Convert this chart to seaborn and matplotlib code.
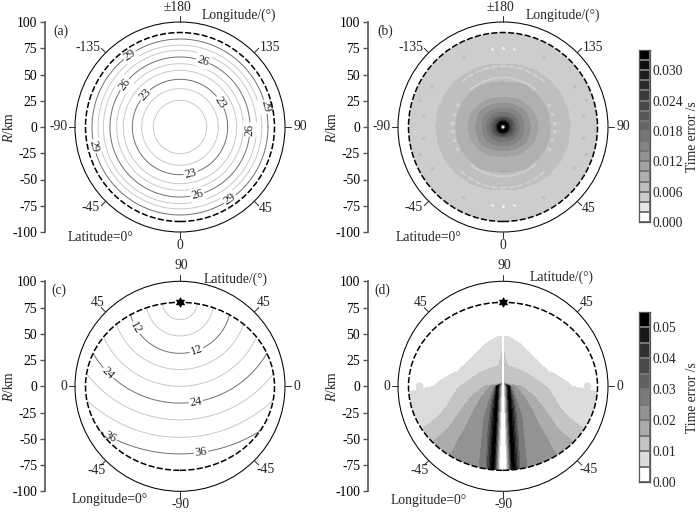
import numpy as np
import pandas as pd
import seaborn as sns
import matplotlib.pyplot as plt
from matplotlib.colors import ListedColormap
from matplotlib.patches import Circle, Ellipse

# contour rings of panel (a): radius in km for each time level
a_levels = [21, 22, 23, 24, 25, 26, 27, 28, 29]
a_radius = [25.4, 36.5, 45.4, 54, 60.3, 66.7, 73, 78, 83.8]
a_labels = {23: [137.5, 31.5, -77], 26: [71, 142.6, -2, -75.6], 29: [125, 13.4, 192.6, -55.3]}

# contour arcs of panel (c): distance from the station at (0, 80)
c_levels = [4, 8, 12, 16, 20, 24, 28, 32, 36]
c_radius = [16.5, 32, 48.6, 64, 80, 96, 112, 128.6, 144.4]
c_labels = {12: [210, -71], 24: [224.6, -81], 36: [242.6, -82]}
station_y = 80

# panel (b): radius where the error reaches each value, one row per angle
b_angles = [0, 15, 30, 45, 60, 75, 90]
b_values = [0, .004, .012, .020, .030, .034, .030, .024, .018, .016, .014, .012, .010, .008, .006, .005, .005]
b_inner = [0, 1.3, 1.8, 2.2, 2.8, 4, 5, 6.8]
b_outer = [
    [12, 15.5, 20, 26, 33, 45, 64, 90, 96],
    [12, 15.5, 20, 26, 33, 45, 64, 90, 96],
    [12, 15, 20, 26, 32, 45, 63.5, 90, 96],
    [11.5, 15, 19.5, 25, 31, 45, 63, 90, 96],
    [11, 14.5, 19, 24, 30, 45, 62, 90, 96],
    [10.5, 14, 18, 23, 28.5, 44, 61, 90, 96],
    [10.5, 14, 18, 22.5, 28, 43, 60, 90, 96],
]
b_levels = [i * 0.002 for i in range(18)]

# lighter dashes of panel (b), first quadrant angle and radius
b_dash_angles = [52, 59, 66, 73, 80, 87, 50, 58, 66, 74, 82, 90]
b_dash_radius = [47, 47, 47, 47, 47, 47, 58, 58, 58, 58, 58, 58]
b_dot_angles = [5, 15, 25, 8, 22]
b_dot_radius = [48.5, 48.5, 48.5, 69, 69]
b_pale_angles = [82, 90]
b_pale_radius = [75, 75]
b_dark_angles = [18, 30, 60, 8]
b_dark_radius = [83, 78, 77, 77]

# panel (d): half width in km where the error reaches each value, one column per value
d_y = [47, 45, 40, 30, 20, 13, 5, 3, 0, -5, -10, -20, -30, -40, -50, -60, -70, -80]
d_cap = [.006, .006, .006, .012, .012, .012, .012, .016, .055, .055, .055, .055, .055, .055, .055, .055, .055, .055]
d_gap = [1, 1, 1, 1, 1, 1, 1, 1, 1.2, 1.3, 1.5, 1.8, 2, 2.3, 2.6, 3, 3.3, 3.5]
d_peak = [1.01, 1.01, 1.01, 1.01, 1.01, 1.01, 1.01, 1.01, 5.5, 5.7, 6, 6.5, 7, 7.5, 8, 8.5, 9, 9.5]
d_040 = [1.02, 1.02, 1.02, 1.02, 1.02, 1.02, 1.02, 1.02, 6.5, 7.2, 8, 9.5, 10.5, 11, 12, 12.5, 13, 13.5]
d_030 = [1.03, 1.03, 1.03, 1.03, 1.03, 1.03, 1.03, 1.03, 7, 8.5, 10, 12, 13, 14, 15, 15, 16, 16]
d_025 = [1.04, 1.04, 1.04, 1.04, 1.04, 1.04, 1.04, 1.04, 8, 10, 12, 15, 18, 19, 20, 21, 22, 23]
d_020 = [1.05, 1.05, 1.05, 1.05, 1.05, 1.05, 1.05, 1.05, 12, 16, 20, 26, 31, 36, 42, 47, 55, 60]
d_015 = [1.06, 1.06, 1.06, 1.06, 1.06, 1.06, 1.06, 1.06, 18, 24, 30, 38, 45, 52, 63, 75, 85, 90]
d_010 = [1.07, 1.07, 1.07, 1.5, 4, 22, 33, 36, 41, 45, 48, 54, 63, 76, 90, 95, 97, 98]
d_005 = [5, 9, 17, 27, 37, 47, 60, 63, 66, 89, 99, 99, 99, 99, 99, 99, 99, 99]
d_values = [0, .005, .055, .040, .030, .025, .020, .015, .010, .005, 0]
d_levels = [i * 0.005 for i in range(12)]
d_blob_x = [-80, 80]
d_blob_y = [0.5, 0.5]
d_streak_x = [35, 40, 45, -35, -40, -45]
d_streak_y = [27, 20, 14, 27, 20, 14]
d_streak_id = [0, 0, 0, 1, 1, 1]

lon_labels = [('±180', -3, 113.6), ('-135', -88, 76), ('135', 86, 76), ('-90', -116, 0.5), ('90', 115, 0),
              ('-45', -85, -77), ('45', 82, -78), ('0', 0, -113)]
lat_labels_c = [('90', 1, 114.6), ('45', -78.5, 80), ('45', 80, 80), ('0', -110.5, 0), ('0', 111, 0),
                ('-45', -79, -80.5), ('-45', 81.6, -79.5), ('-90', 1, -113)]
r_ticks = [100, 75, 50, 25, 0, -25, -50, -75, -100]

sns.set_theme(style='ticks')
plt.rcParams['font.family'] = ['Liberation Serif', 'DejaVu Sans']
plt.rcParams['mathtext.fontset'] = 'custom'
plt.rcParams['mathtext.it'] = 'Liberation Serif:italic'
plt.rcParams['mathtext.rm'] = 'Liberation Serif'

W, H = 700, 514
KM = 1.05   # pixels per km
TXT = 9.8
fig = plt.figure(figsize=(W / 100, H / 100), dpi=100, facecolor='white')


def make_panel(cx, cy, name, semi, corner, labels, corner_xy, side_xy, side):
    # axes placed in pixels so one km is the same on both axes
    left = cx - 135
    ax = fig.add_axes([left / W, 1 - (cy + 126) / H, 270 / W, 252 / H])
    ax.set_xlim(-135 / KM, 135 / KM)
    ax.set_ylim(-120, 120)
    ax.patch.set_alpha(0)
    sns.despine(ax=ax, bottom=True)
    ax.spines['left'].set_bounds(-100, 100)
    ax.spines['left'].set_color('#555555')
    ax.spines['left'].set_linewidth(1.2)
    ax.set_xticks([])
    ax.set_yticks(r_ticks)
    ax.set_yticklabels([str(t) for t in r_ticks], fontsize=TXT, color='black')
    ax.tick_params(axis='y', length=3.6, width=1, color='#555555', pad=2)
    ax.text(-163, 0, r'$\mathit{R}$/km', rotation=90, ha='center', va='center', fontsize=TXT, clip_on=False)

    ax.add_patch(Circle((0, 0), 100, fill=False, ec='black', lw=0.75, zorder=5, clip_on=False))
    ax.add_patch(Ellipse((0, 0), 2 * semi[0], 2 * semi[1], fill=False, ec='black', lw=1.1, ls=(0, (4, 1.5)), zorder=6))
    for ang in [0, 45, 90, 135, 180, 225, 270, 315]:
        c, s = np.cos(np.radians(ang)), np.sin(np.radians(ang))
        ax.plot([100 * c, 106 * c], [100 * s, 106 * s], color='#333333', lw=0.75, clip_on=False, zorder=5)

    for txt, x, y in labels:
        ax.text(x, y, txt, ha='center', va='center', fontsize=TXT)
    ax.text(corner_xy[0], corner_xy[1], name, ha='center', va='center', fontsize=TXT)
    ax.text(side_xy[0], side_xy[1], side, ha='center', va='center', fontsize=TXT)
    ax.text(corner[0], corner[1], corner[2], ha='center', va='center', fontsize=TXT)
    return ax


def reset_limits(ax):
    ax.set_xlabel('')
    ax.set_ylabel('')
    ax.set_xlim(-135 / KM, 135 / KM)
    ax.set_ylim(-120, 120)


def draw_rings(ax, levels, radius, labels, y0, semi):
    rows = []
    t = np.radians(np.arange(0, 361, 1))
    for lev, r in zip(levels, radius):
        kind = 'major' if lev in labels else 'minor'
        rows.append(pd.DataFrame({'x': r * np.cos(t), 'y': y0 + r * np.sin(t), 'level': lev, 'kind': kind}))
    df = pd.concat(rows)
    sns.lineplot(data=df, x='x', y='y', units='level', hue='kind', estimator=None, sort=False, legend=False,
                 palette={'major': '#707070', 'minor': '#c8c8c8'}, linewidth=0.7, ax=ax)
    clip = Ellipse((0, 0), 2 * semi[0], 2 * semi[1], transform=ax.transData)
    for line in ax.lines:
        if len(line.get_xdata()) > 100:
            line.set_clip_path(clip)
    for lev, r in zip(levels, radius):
        for ang in labels.get(lev, []):
            rot = (ang - 90 + 90) % 180 - 90
            ax.text(r * np.cos(np.radians(ang)), y0 + r * np.sin(np.radians(ang)), str(lev), rotation=rot,
                    rotation_mode='anchor', ha='center', va='center', fontsize=8.8, zorder=4,
                    bbox=dict(fc='white', ec='none', pad=0.8))
    reset_limits(ax)


def quarter_points(angles, radius):
    a = np.radians(angles)
    r = np.array(radius)
    xs = np.concatenate([r * np.cos(a), -r * np.cos(a), r * np.cos(a), -r * np.cos(a)])
    ys = np.concatenate([r * np.sin(a), r * np.sin(a), -r * np.sin(a), -r * np.sin(a)])
    return xs, ys


def draw_colorbar(top, bottom, levels, colors, tick_vals, fmt, title_y):
    cax = fig.add_axes([639 / W, 1 - bottom / H, 11 / W, (bottom - top) / H])
    n = len(colors)
    grid = np.arange(n)[::-1].reshape(-1, 1)
    sns.heatmap(grid, cmap=ListedColormap(colors), vmin=-0.5, vmax=n - 0.5, cbar=False, ax=cax,
                linewidths=0.3, linecolor='#777777', xticklabels=False)
    step = levels[1] - levels[0]
    cax.set_yticks([n - v / step for v in tick_vals])
    cax.set_yticklabels([fmt % v for v in tick_vals], rotation=0, fontsize=TXT)
    cax.yaxis.tick_right()
    cax.tick_params(axis='y', length=0, pad=2)
    for sp in cax.spines.values():
        sp.set_visible(True)
        sp.set_color('#555555')
        sp.set_linewidth(0.9)
    fig.text(692 / W, 1 - title_y / H, 'Time error /s', rotation=90, ha='center', va='center', fontsize=TXT)


# panel (a)
ax_a = make_panel(180, 127, '(a)', (90, 90), (-75.5, -105.4, 'Latitude=0°'), lon_labels, (-113.6, 91.4),
                  (56.5, 106), 'Longitude/(°)')
draw_rings(ax_a, a_levels, a_radius, a_labels, 0, (100, 100))

# panel (b)
ax_b = make_panel(503, 127, '(b)', (90, 90), (-71.4, -105.4, 'Latitude=0°'), lon_labels, (-112, 91.4),
                  (57, 106), 'Longitude/(°)')
b_colors = ['#ffffff', '#e6e6e6'] + sns.blend_palette(['#cdcdcd', '#000000'], 15).as_hex()
b_rows = np.array([b_inner + row for row in b_outer])
b_r = np.vstack([b_rows, b_rows[-2::-1], b_rows[1:], b_rows[-2::-1]])
b_t = np.radians(np.arange(0, 361, 15))[:, None]
b_z = np.tile(b_values, (len(b_t), 1))
cs = ax_b.contourf(b_r * np.cos(b_t), b_r * np.sin(b_t), b_z, levels=b_levels, colors=b_colors, zorder=1)
cs.set_clip_path(Circle((0, 0), 90, transform=ax_b.transData))

dash_rows = []
for sx, sy, q in [(1, 1, 0), (-1, 1, 1), (1, -1, 2), (-1, -1, 3)]:
    for k, (ang, r) in enumerate(zip(b_dash_angles, b_dash_radius)):
        t = np.radians([ang - 2.2, ang, ang + 2.2])
        dash_rows.append(pd.DataFrame({'x': sx * r * np.cos(t), 'y': sy * r * np.sin(t), 'dash': f'{q}-{k}'}))
dash_df = pd.concat(dash_rows)
sns.lineplot(data=dash_df, x='x', y='y', units='dash', estimator=None, sort=False, legend=False, color='#d0d0d0',
             linewidth=1.5, ax=ax_b, zorder=2)
for angles, radius, col, size in [(b_dot_angles, b_dot_radius, '#d0d0d0', 7),
                                  (b_pale_angles, b_pale_radius, '#eeeeee', 4),
                                  (b_dark_angles, b_dark_radius, '#bdbdbd', 6)]:
    xs, ys = quarter_points(angles, radius)
    sns.scatterplot(x=xs, y=ys, color=col, s=size, linewidth=0, legend=False, ax=ax_b, zorder=2)
reset_limits(ax_b)
draw_colorbar(50, 222, b_levels, b_colors, [0, .006, .012, .018, .024, .030], '%.3f', 137)

# panel (c)
ax_c = make_panel(180, 386.3, '(c)', (90, 80), (-67, -108, 'Longitude=0°'), lat_labels_c, (-115, 91.4),
                  (53, 102), 'Latitude/(°)')
draw_rings(ax_c, c_levels, c_radius, c_labels, station_y, (90, 80))
ax_c.scatter([0], [station_y], marker=(6, 1, 0), s=38, color='black', zorder=7)

# panel (d)
ax_d = make_panel(503, 386.3, '(d)', (90, 80), (-71, -109, 'Longitude=0°'), lat_labels_c, (-114.6, 91.4),
                  (56, 104), 'Latitude/(°)')
d_colors = ['#ffffff'] + sns.blend_palette(['#dcdcdc', '#000000'], 10).as_hex()
d_half = np.column_stack([np.zeros(len(d_y)), d_gap, d_peak, d_040, d_030, d_025, d_020, d_015, d_010, d_005,
                          np.full(len(d_y), 105)])
d_x = np.hstack([-d_half[:, :0:-1], d_half])
d_yy = np.tile(np.array(d_y)[:, None], (1, d_x.shape[1]))
d_z = np.tile(np.concatenate([d_values[:0:-1], d_values]), (len(d_y), 1))
d_z = np.minimum(d_z, np.array(d_cap)[:, None])
cs = ax_d.contourf(d_x, d_yy, d_z, levels=d_levels, colors=d_colors, zorder=1)
cs.set_clip_path(Ellipse((0, 0), 180, 160, transform=ax_d.transData))
sns.scatterplot(x=d_blob_x, y=d_blob_y, color='#dcdcdc', s=32, linewidth=0, legend=False, ax=ax_d, zorder=2)
sns.lineplot(x=d_streak_x, y=d_streak_y, units=d_streak_id, estimator=None, sort=False, legend=False, color='white',
             linewidth=1.2, ax=ax_d, zorder=2)
reset_limits(ax_d)
ax_d.scatter([0], [station_y], marker=(6, 1, 0), s=38, color='black', zorder=7)
draw_colorbar(312, 482, d_levels, d_colors, [0, .01, .02, .03, .04, .05], '%.2f', 398)

fig.savefig('out.png', dpi=100)
